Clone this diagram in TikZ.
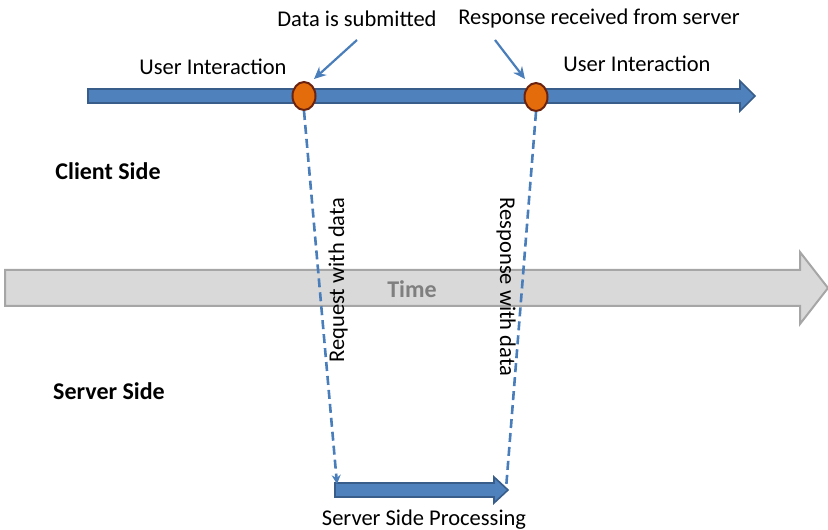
\documentclass[tikz,border=0pt]{standalone}
\usepackage{fontspec}
\setmainfont{Carlito}
\usepackage{tikz}
\usetikzlibrary{arrows.meta,positioning,calc,shapes.geometric}

\definecolor{flowblue}{HTML}{4F81BD}
\definecolor{flowedge}{HTML}{385D8A}
\definecolor{linkblue}{HTML}{4A7EBB}
\definecolor{eventfill}{HTML}{E46C0A}
\definecolor{eventedge}{HTML}{6B2310}
\definecolor{timefill}{HTML}{D9D9D9}
\definecolor{timeedge}{HTML}{A6A6A6}
\definecolor{timetext}{HTML}{7F7F7F}

% block arrow: start x, tip x, centre y, half shaft, half head, head length
\newcommand{\blockarrow}[7][]{%
  \draw[#1] (#2,#4-#5) -- (#3-#7,#4-#5) -- (#3-#7,#4-#6) -- (#3,#4)
    -- (#3-#7,#4+#6) -- (#3-#7,#4+#5) -- (#2,#4+#5) -- cycle;}

\begin{document}
\begin{tikzpicture}[x=1pt,y=1pt,
  every node/.style={font=\fontsize{22.5}{24}\selectfont},
  flowarrow/.style={fill=flowblue,draw=flowedge,line width=1.6pt},
  timearrow/.style={fill=timefill,draw=timeedge,line width=2pt},
  event/.style={ellipse,fill=eventfill,draw=eventedge,line width=2pt,
    minimum width=23pt,minimum height=28pt,inner sep=0pt},
  pointer/.style={draw=linkblue,line width=2.2pt,-{Stealth[length=12pt,width=11pt]}},
  message/.style={draw=linkblue,line width=2.6pt,dash pattern=on 9pt off 5pt},
  sidelabel/.style={font=\fontsize{24}{26}\selectfont\bfseries}]
  \useasboundingbox (0,0) rectangle (828,530);

  % time axis
  \blockarrow[timearrow]{5}{828}{242}{18}{36}{28}
  \node[text=timetext,font=\fontsize{24}{26}\selectfont\bfseries] (time) at (412,241) {Time};

  % client timeline
  \blockarrow[flowarrow]{88}{755}{434}{7}{15}{15}
  \node[event] (submit) at (304,434) {};
  \node[event] (reply) at (536,433) {};

  % server processing
  \blockarrow[flowarrow]{335}{508}{40}{7}{13}{14}
  \coordinate (srvin) at (337,46);
  \coordinate (srvout) at (506,41);

  % labels
  \node (lblsubmit) at (357,511) {Data is submitted};
  \node (lblreply) at (599,511) {Response received from server};
  \node (uileft) at (213,463) {User Interaction};
  \node (uiright) at (637,466) {User Interaction};
  \node[sidelabel] (client) at (108,359) {Client Side};
  \node[sidelabel] (server) at (109,139) {Server Side};
  \node (proc) at (424,10) {Server Side Processing};

  \coordinate (ptsub) at (357,490);
  \coordinate (ptrep) at (495,490);
  \draw[pointer] (ptsub) -- (314,451);
  \draw[pointer] (ptrep) -- (525,451);

  % request / response
  \draw[message,-{Stealth[length=9pt,width=9pt]}] (submit.south) -- (srvin);
  \draw[message] (reply.south) -- (srvout);
  \node[rotate=90] (req) at (338,250) {Request with data};
  \node[rotate=-90] (resp) at (506,243) {Response with data};
\end{tikzpicture}
\end{document}
